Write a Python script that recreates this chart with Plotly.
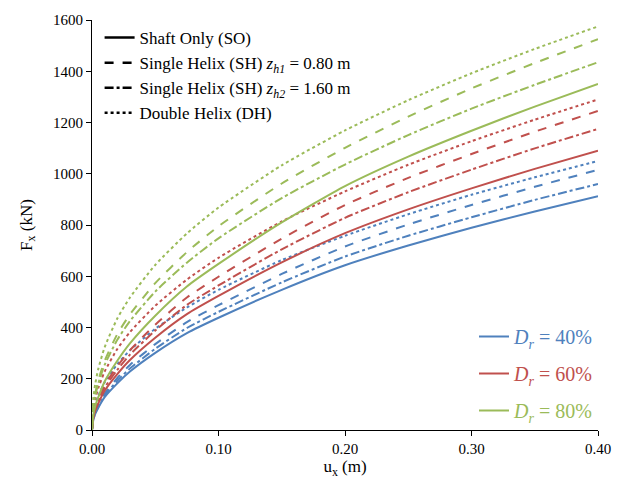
import plotly.graph_objects as go

u = [0, 0.001, 0.0025, 0.005, 0.01, 0.02, 0.03, 0.05, 0.075, 0.1, 0.15, 0.2, 0.25, 0.3, 0.35, 0.4]

# Dr = 40%
blue_so = [0, 38, 62, 87, 128, 182, 228, 301, 378, 438, 547, 643, 720, 789, 853, 912]
blue_sh1 = [0, 43, 69, 96, 142, 203, 254, 335, 421, 487, 609, 716, 802, 878, 949, 1015]
blue_sh2 = [0, 40, 65, 91, 134, 192, 240, 317, 398, 461, 576, 677, 758, 830, 898, 960]
blue_dh = [0, 63, 97, 133, 186, 257, 311, 395, 478, 547, 663, 758, 842, 918, 986, 1050]
# Dr = 60%
red_so = [0, 46, 74, 104, 153, 218, 273, 360, 452, 523, 654, 768, 861, 943, 1019, 1090]
red_sh1 = [0, 52, 85, 118, 174, 249, 311, 411, 517, 598, 747, 878, 984, 1077, 1164, 1245]
red_sh2 = [0, 49, 80, 112, 165, 235, 294, 388, 488, 564, 705, 828, 928, 1016, 1099, 1175]
red_dh = [0, 77, 119, 164, 228, 316, 382, 485, 587, 672, 814, 931, 1035, 1127, 1211, 1290]
# Dr = 80%
green_so = [0, 57, 92, 128, 189, 270, 338, 446, 560, 648, 810, 952, 1067, 1168, 1262, 1350]
green_sh1 = [0, 92, 140, 194, 270, 374, 451, 573, 694, 795, 962, 1101, 1223, 1333, 1432, 1525]
green_sh2 = [0, 86, 132, 182, 254, 352, 425, 540, 653, 748, 905, 1036, 1151, 1254, 1347, 1435]
green_dh = [0, 120, 178, 239, 323, 435, 517, 644, 767, 868, 1033, 1169, 1287, 1392, 1487, 1575]

BLUE, RED, GREEN = "#4F81BD", "#C0504D", "#9BBB59"
FONT = "Liberation Serif, Times New Roman, serif"

fig = go.Figure()

series = [
    (blue_so, BLUE, "solid"), (blue_sh1, BLUE, "dash"), (blue_sh2, BLUE, "dashdot"), (blue_dh, BLUE, "dot"),
    (red_so, RED, "solid"), (red_sh1, RED, "dash"), (red_sh2, RED, "dashdot"), (red_dh, RED, "dot"),
    (green_so, GREEN, "solid"), (green_sh1, GREEN, "dash"), (green_sh2, GREEN, "dashdot"), (green_dh, GREEN, "dot"),
]
for ys, c, d in series:
    fig.add_trace(go.Scatter(x=u, y=ys, mode="lines",
                             line=dict(color=c, dash=d, width=2, shape="spline", smoothing=0.6),
                             showlegend=False, hoverinfo="skip"))

# Style legend (top-left)
style_names = [
    ("Shaft Only (SO)", "solid"),
    ("Single Helix (SH) <i>z<sub>h1</sub></i> = 0.80 m", "dash"),
    ("Single Helix (SH) <i>z<sub>h2</sub></i> = 1.60 m", "dashdot"),
    ("Double Helix (DH)", "dot"),
]
for name, d in style_names:
    fig.add_trace(go.Scatter(x=[None], y=[None], mode="lines", name=name,
                             line=dict(color="black", dash=d, width=2.5), legend="legend"))

# Colour legend (bottom-right)
dr_names = [("40%", BLUE), ("60%", RED), ("80%", GREEN)]
for i, (v, c) in enumerate(dr_names):
    fig.add_trace(go.Scatter(x=[None], y=[None], mode="lines",
                             name=f'<span style="color:{c}"><i>D<sub>r</sub></i> = {v}</span>',
                             line=dict(color=c, width=2), legend="legend2", legendgroup=f"g{i}"))

axis_common = dict(showline=True, linecolor="black", linewidth=1, ticks="outside", ticklen=5,
                   tickcolor="black", showgrid=False, zeroline=False, mirror=False,
                   tickfont=dict(family=FONT, size=15, color="black"))

fig.update_layout(
    width=623, height=483,
    margin=dict(l=92, r=14, t=19, b=53),
    paper_bgcolor="white", plot_bgcolor="white",
    font=dict(family=FONT, size=15, color="black"),
    xaxis=dict(range=[0, 0.4], dtick=0.1, tickformat=".2f", ticklabeloverflow="allow",
               title=dict(text="u<sub>x</sub> (m)", font=dict(family=FONT, size=17), standoff=2),
               **axis_common),
    yaxis=dict(range=[0, 1600], dtick=200,
               title=dict(text="F<sub>x</sub> (kN)", font=dict(family=FONT, size=17), standoff=16),
               **axis_common),
    legend=dict(x=0.015, y=1.0, xanchor="left", yanchor="top", bgcolor="rgba(0,0,0,0)",
                font=dict(family=FONT, size=17), itemwidth=30, tracegroupgap=0),
    legend2=dict(x=1.0, y=0.0, xanchor="right", yanchor="bottom", bgcolor="rgba(0,0,0,0)",
                 font=dict(family=FONT, size=20), itemwidth=30, tracegroupgap=8),
)

fig.write_html("out.html", config={"displayModeBar": False},
               post_script="document.body.style.margin='0';document.body.style.overflow='hidden';")
